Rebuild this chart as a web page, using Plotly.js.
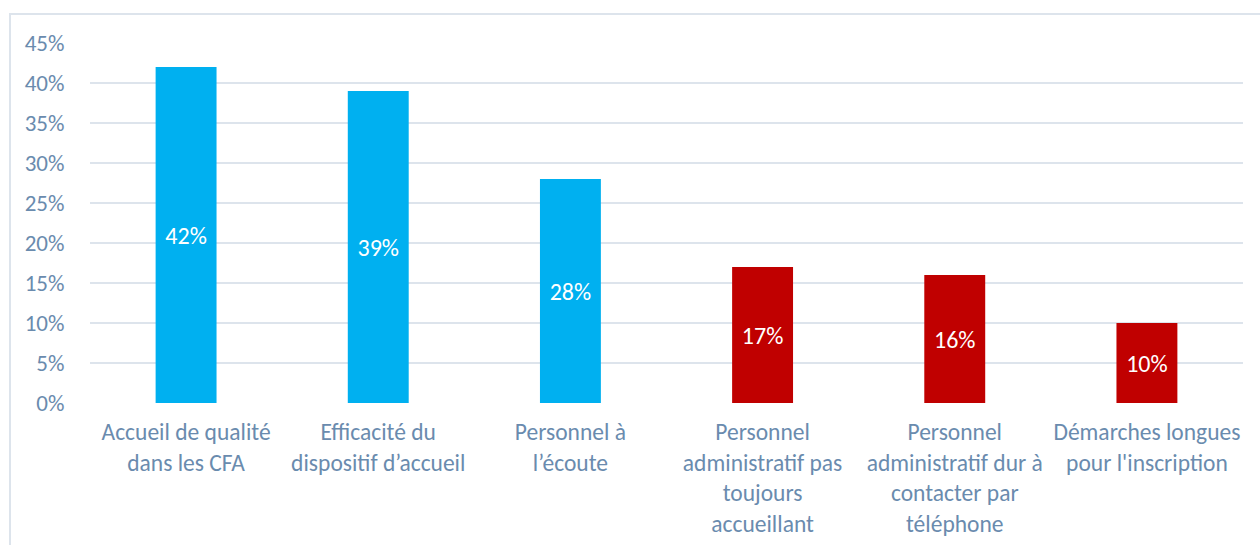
<!DOCTYPE html>
<html><head><meta charset="utf-8">
<script src="https://cdn.plot.ly/plotly-3.0.1.min.js"></script>
<style>
html,body{margin:0;padding:0;background:#fff;}
#frame{position:absolute;left:9px;top:13px;width:1300px;height:600px;border-left:2px solid #dde4ec;border-top:2px solid #dde4ec;}
#chart{position:absolute;left:0;top:0;width:1260px;height:545px;}
</style></head>
<body>
<div id="frame"></div>
<div id="chart"></div>
<script>
const categories = [
  "Accueil de qualité<br>dans les CFA",
  "Efficacité du<br>dispositif d’accueil",
  "Personnel à<br>l’écoute",
  "Personnel<br>administratif pas<br>toujours<br>accueillant",
  "Personnel<br>administratif dur à<br>contacter par<br>téléphone",
  "Démarches longues<br>pour l'inscription"
];
const values = [42, 39, 28, 17, 16, 10];
const barColors = ["#00B0F0", "#00B0F0", "#00B0F0", "#C00000", "#C00000", "#C00000"];
const yTicks = [0, 5, 10, 15, 20, 25, 30, 35, 40, 45];

const FONT = "Carlito, Lato, sans-serif";
const trace = {
  type: "bar",
  x: categories,
  y: values,
  marker: {color: barColors},
  text: values.map(v => v + "%"),
  textposition: "inside",
  insidetextanchor: "middle",
  textangle: 0,
  textfont: {family: FONT, size: 24, color: "#ffffff"},
  hoverinfo: "none"
};
const layout = {
  width: 1260, height: 545,
  margin: {l: 90, r: 17, t: 43, b: 142},
  paper_bgcolor: "rgba(0,0,0,0)",
  plot_bgcolor: "rgba(0,0,0,0)",
  showlegend: false,
  bargap: 0.683,
  font: {family: FONT, size: 23, color: "#6a8bae"},
  xaxis: {
    type: "category",
    showgrid: false, zeroline: false, showline: false,
    ticks: "outside", ticklen: 8, tickcolor: "rgba(0,0,0,0)",
    tickfont: {family: FONT, size: 23.5, color: "#6a8bae"}
  },
  yaxis: {
    range: [0, 45],
    tickvals: yTicks,
    ticktext: yTicks.map(v => v + "%"),
    showgrid: true, gridcolor: "#dde4ec", gridwidth: 2,
    zeroline: false, showline: false,
    ticks: "outside", ticklen: 20, tickcolor: "rgba(0,0,0,0)",
    tickfont: {family: FONT, size: 23, color: "#6a8bae"}
  }
};
Plotly.newPlot("chart", [trace], layout, {displayModeBar: false, staticPlot: true});
</script>
</body></html>
